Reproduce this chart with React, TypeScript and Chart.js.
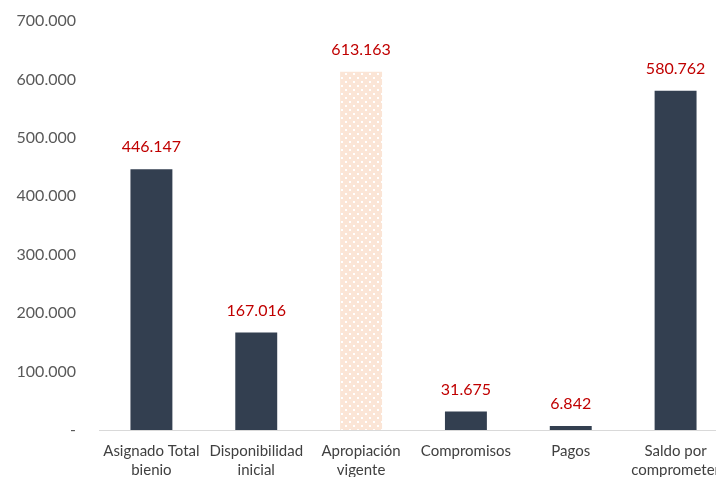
import React, { useEffect, useRef } from "react";
import { Chart, registerables } from "chart.js";
Chart.register(...registerables);

const categories: string[][] = [
  ["Asignado Total", "bienio"],
  ["Disponibilidad", "inicial"],
  ["Apropiación", "vigente"],
  ["Compromisos"],
  ["Pagos"],
  ["Saldo por", "comprometer"],
];
const values: number[] = [446147, 167016, 613163, 31675, 6842, 580762];
const yTicks: number[] = [0, 100000, 200000, 300000, 400000, 500000, 600000, 700000];

const FONT = "Lato, 'Noto Sans', sans-serif";
const fmt = (v: number) =>
  v === 0 ? "-" : Math.round(v).toString().replace(/\B(?=(\d{3})+(?!\d))/g, ".");

function makePattern(): CanvasPattern | string {
  const c = document.createElement("canvas");
  c.width = 8;
  c.height = 8;
  const ctx = c.getContext("2d");
  if (!ctx) return "#FBE5D6";
  ctx.fillStyle = "#FBE5D6";
  ctx.fillRect(0, 0, 8, 8);
  ctx.fillStyle = "#FFFFFF";
  ctx.fillRect(1, 1, 2, 2);
  ctx.fillRect(5, 5, 2, 2);
  const p = ctx.createPattern(c, "repeat");
  return p || "#FBE5D6";
}

const labelPlugin = {
  id: "valueLabels",
  afterDatasetsDraw(chart: any) {
    const ctx = chart.ctx;
    const meta = chart.getDatasetMeta(0);
    ctx.save();
    ctx.font = `16px ${FONT}`;
    ctx.fillStyle = "#C00000";
    ctx.textAlign = "center";
    ctx.textBaseline = "middle";
    meta.data.forEach((bar: any, i: number) => {
      ctx.fillText(fmt(values[i]), bar.x, bar.y - 22);
    });
    ctx.restore();
  },
};

export default function App() {
  const ref = useRef<HTMLCanvasElement>(null);
  useEffect(() => {
    document.documentElement.style.overflow = "hidden";
    document.body.style.overflow = "hidden";
    if (!ref.current) return;
    const pattern = makePattern();
    const colors = values.map((_, i) => (i === 2 ? pattern : "#333F50"));
    const chart = new Chart(ref.current, {
      type: "bar",
      data: {
        labels: categories,
        datasets: [
          {
            data: values,
            backgroundColor: colors as any,
            borderWidth: 0,
            barPercentage: 0.4,
            categoryPercentage: 1,
          },
        ],
      },
      plugins: [labelPlugin],
      options: {
        animation: false,
        responsive: false,
        maintainAspectRatio: false,
        layout: { padding: { top: 21, right: 0, left: 0, bottom: 0 } },
        plugins: { legend: { display: false }, tooltip: { enabled: false } },
        scales: {
          x: {
            afterFit: (s: any) => {
              s.height = 47;
              s.paddingLeft = 0;
              s.paddingRight = 0;
            },
            grid: { display: false, drawTicks: false },
            border: { display: true, color: "#D9D9D9", width: 1 },
            ticks: {
              color: "#404040",
              font: { family: FONT, size: 15, lineHeight: 1.23 },
              padding: 12,
              maxRotation: 0,
              autoSkip: false,
            },
          },
          y: {
            min: 0,
            max: 700000,
            afterFit: (s: any) => {
              s.width = 99;
              s.paddingTop = 0;
              s.paddingBottom = 0;
            },
            afterBuildTicks: (s: any) => {
              s.ticks = yTicks.map((v) => ({ value: v }));
            },
            grid: { display: false, drawTicks: false },
            border: { display: false },
            ticks: {
              color: "#595959",
              font: { family: FONT, size: 16 },
              padding: 23,
              callback: (v: any) => fmt(Number(v)),
            },
          },
        },
      },
    });
    return () => chart.destroy();
  }, []);
  return (
    <div style={{ position: "fixed", left: 0, top: 0, width: 728, height: 477 }}>
      <canvas ref={ref} width={728} height={477} style={{ display: "block" }} />
    </div>
  );
}
